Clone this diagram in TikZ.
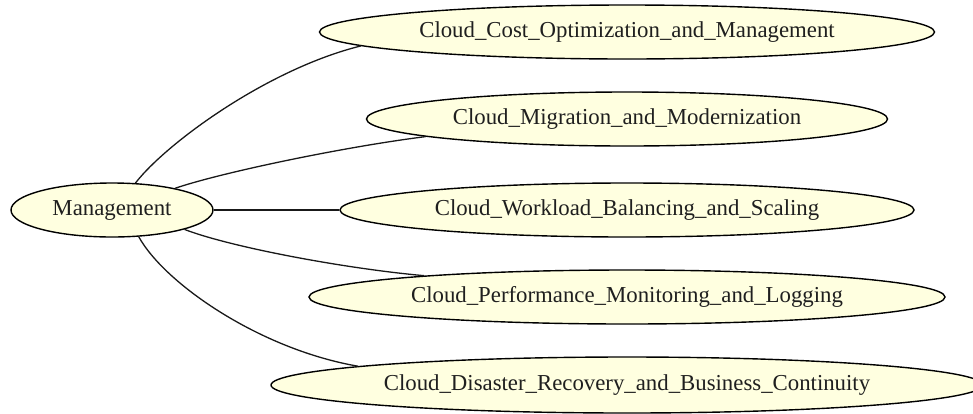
\documentclass[tikz,border=0pt]{standalone}
\usepackage{fontspec}
\setmainfont{Liberation Serif}
\usetikzlibrary{shapes.geometric}
\definecolor{nodefill}{HTML}{FFFFE0}
\tikzset{
  topic/.style={ellipse, draw=black, line width=1.4pt, fill=nodefill,
    inner sep=0pt, minimum height=54pt,
    font=\fontsize{22.8}{27}\selectfont, text=black!88},
  link/.style={draw=black!90, line width=1.3pt},
}
\begin{document}
\begin{tikzpicture}[x=1pt, y=-1pt]
  \useasboundingbox (0,0) rectangle (973,413);

  \node[topic, minimum width=202pt] (m) at (112,210) {Management};
  \node[topic, minimum width=615pt] (c) at (627,32)  {Cloud\_Cost\_Optimization\_and\_Management};
  \node[topic, minimum width=521pt] (g) at (627,119) {Cloud\_Migration\_and\_Modernization};
  \node[topic, minimum width=574pt] (w) at (627,210) {Cloud\_Workload\_Balancing\_and\_Scaling};
  \node[topic, minimum width=636pt] (p) at (627,297) {Cloud\_Performance\_Monitoring\_and\_Logging};
  \node[topic, minimum width=712pt, minimum height=56pt] (d) at (627,385) {Cloud\_Disaster\_Recovery\_and\_Business\_Continuity};

  % connectors from the hub
  \draw[link] (m.49) .. controls +(31,-40) and +(-93,23) .. (c.183);
  \draw[link] (m.19) .. controls +(47,-16) and +(-80,10) .. (g.185.5);
  \draw[link] (m.east) -- (w.west);
  \draw[link, line width=2.3pt] (m.east) -- +(20,0);
  \draw[link, line width=2.3pt] (w.west) -- +(-20,0);
  \draw[link] (m.-15) .. controls +(47,18) and +(-78,-7) .. (p.174.3);
  \draw[link] (m.-45) .. controls +(26,47) and +(-98,-17) .. (d.176.3);
\end{tikzpicture}
\end{document}
